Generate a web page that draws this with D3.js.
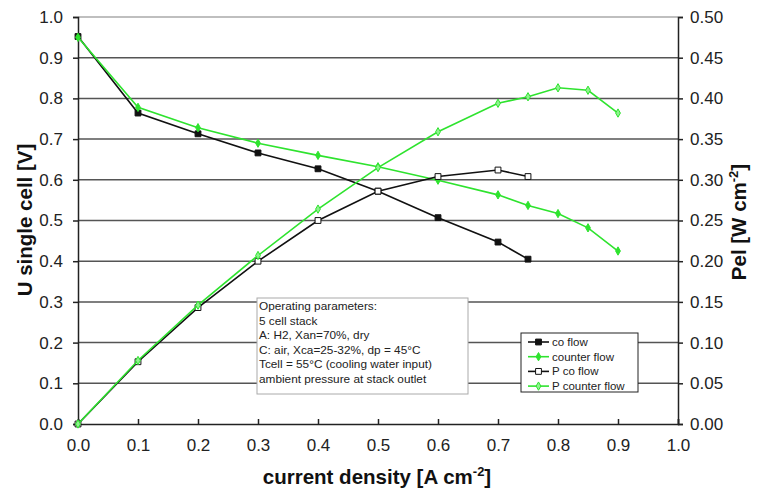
<!DOCTYPE html>
<html>
<head>
<meta charset="utf-8">
<script src="https://cdn.jsdelivr.net/npm/d3@7"></script>
<style>
  body { margin: 0; background: #fff; }
  text { font-family: "Liberation Sans", Arial, sans-serif; }
</style>
</head>
<body>
<div class="chart"></div>
<script>
// current density [A cm-2]
var xCo = [0, 0.1, 0.2, 0.3, 0.4, 0.5, 0.6, 0.7, 0.75];
var xCounter = [0, 0.1, 0.2, 0.3, 0.4, 0.5, 0.6, 0.7, 0.75, 0.8, 0.85, 0.9];

// U single cell [V]
var uCo = [0.952, 0.764, 0.713, 0.666, 0.627, 0.572, 0.507, 0.447, 0.405];
var uCounter = [0.95, 0.778, 0.728, 0.690, 0.660, 0.632, 0.599, 0.563, 0.537, 0.517, 0.482, 0.425];

// Pel [W cm-2]
var pCo = [0, 0.0765, 0.143, 0.200, 0.250, 0.286, 0.304, 0.312, 0.304];
var pCounter = [0, 0.078, 0.146, 0.207, 0.264, 0.315, 0.359, 0.394, 0.402, 0.413, 0.410, 0.382];

var xTicks = [0, 0.1, 0.2, 0.3, 0.4, 0.5, 0.6, 0.7, 0.8, 0.9, 1.0];
var yTicks = [0, 0.1, 0.2, 0.3, 0.4, 0.5, 0.6, 0.7, 0.8, 0.9, 1.0];
var y2Ticks = [0, 0.05, 0.1, 0.15, 0.2, 0.25, 0.3, 0.35, 0.4, 0.45, 0.5];

var series = ["co flow", "counter flow", "P co flow", "P counter flow"];
var notes = [
  "Operating parameters:",
  "5 cell stack",
  "A: H2, Xan=70%, dry",
  "C: air, Xca=25-32%, dp = 45°C",
  "Tcell = 55°C (cooling water input)",
  "ambient pressure at stack outlet"
];

var green = "#2ee32e";
var lightGreen = "#8ef28e";

var svg = d3.select(".chart").append("svg")
  .attr("width", 759)
  .attr("height", 490);

var x = d3.scaleLinear().domain([0, 1]).range([78, 678]);
var y = d3.scaleLinear().domain([0, 1]).range([424, 17]);
var y2 = d3.scaleLinear().domain([0, 0.5]).range([424, 17]);

// grid lines
svg.append("g").selectAll("line")
  .data(yTicks.slice(1))
  .join("line")
  .attr("x1", x(0)).attr("x2", x(1))
  .attr("y1", d => y(d)).attr("y2", d => y(d))
  .style("stroke", d => d === 1 ? "#aaa" : "#555")
  .style("stroke-width", 1.5);

// axes
var fmt1 = d3.format(".1f");
var fmt2 = d3.format(".2f");

var gx = svg.append("g")
  .attr("transform", "translate(0," + y(0) + ")")
  .call(d3.axisBottom(x).tickValues(xTicks).tickFormat(fmt1).tickSize(-5).tickPadding(15));

var gy = svg.append("g")
  .attr("transform", "translate(" + x(0) + ",0)")
  .call(d3.axisLeft(y).tickValues(yTicks).tickFormat(fmt1).tickSize(5).tickPadding(10));

var gy2 = svg.append("g")
  .attr("transform", "translate(" + x(1) + ",0)")
  .call(d3.axisRight(y2).tickValues(y2Ticks).tickFormat(fmt2).tickSize(5).tickPadding(7));

[gx, gy, gy2].forEach(function(g) {
  g.select(".domain").style("stroke", "#222").style("stroke-width", 1.5);
  g.selectAll(".tick line").style("stroke", "#222").style("stroke-width", 1.5);
  g.selectAll(".tick text")
    .style("font-size", "17px")
    .attr("fill", "#222")
    .attr("font-family", "Liberation Sans, Arial, sans-serif");
});

// axis titles
svg.append("text")
  .attr("transform", "translate(32,220) rotate(-90)")
  .attr("text-anchor", "middle")
  .style("font-size", "20.5px")
  .style("font-weight", "bold")
  .attr("fill", "#111")
  .text("U single cell [V]");

var t2 = svg.append("text")
  .attr("transform", "translate(746,222) rotate(-90)")
  .attr("text-anchor", "middle")
  .style("font-size", "20.5px")
  .style("font-weight", "bold")
  .attr("fill", "#111");
t2.append("tspan").text("Pel [W cm");
t2.append("tspan").attr("dy", -8).style("font-size", "13px").text("-2");
t2.append("tspan").attr("dy", 8).text("]");

var t3 = svg.append("text")
  .attr("x", 377).attr("y", 484)
  .attr("text-anchor", "middle")
  .style("font-size", "20.5px")
  .style("font-weight", "bold")
  .attr("fill", "#111");
t3.append("tspan").text("current density [A cm");
t3.append("tspan").attr("dy", -8).style("font-size", "13px").text("-2");
t3.append("tspan").attr("dy", 8).text("]");

// series
var lineU = d3.line().x(d => x(d[0])).y(d => y(d[1]));
var lineP = d3.line().x(d => x(d[0])).y(d => y2(d[1]));

var dCo = xCo.map((v, i) => [v, uCo[i]]);
var dCounter = xCounter.map((v, i) => [v, uCounter[i]]);
var dPCo = xCo.map((v, i) => [v, pCo[i]]);
var dPCounter = xCounter.map((v, i) => [v, pCounter[i]]);

var styles = [
  { data: dCo, line: lineU, stroke: "#111", marker: "square", fill: "#111" },
  { data: dCounter, line: lineU, stroke: green, marker: "diamond", fill: green },
  { data: dPCo, line: lineP, stroke: "#111", marker: "square", fill: "#fff" },
  { data: dPCounter, line: lineP, stroke: green, marker: "diamond", fill: lightGreen }
];

var sq = d3.symbol().type(d3.symbolSquare).size(34);
var dia = d3.symbol().type(d3.symbolDiamond).size(20);

styles.forEach(function(s, k) {
  var ys = k < 2 ? y : y2;
  svg.append("path")
    .datum(s.data)
    .attr("d", s.line)
    .attr("fill", "none")
    .style("stroke", s.stroke)
    .style("stroke-width", 1.6);
  svg.append("g").selectAll("path")
    .data(s.data)
    .join("path")
    .attr("transform", d => "translate(" + x(d[0]) + "," + ys(d[1]) + ")")
    .attr("d", s.marker === "square" ? sq : dia)
    .attr("fill", s.fill)
    .style("stroke", s.stroke)
    .style("stroke-width", 1);
});

// operating parameters box
svg.append("rect")
  .attr("x", 257).attr("y", 298)
  .attr("width", 211).attr("height", 96)
  .attr("fill", "#fff")
  .style("stroke", "#aaa")
  .style("stroke-width", 1);

svg.append("g").selectAll("text")
  .data(notes)
  .join("text")
  .attr("x", 259)
  .attr("y", (d, i) => 310 + i * 14.6)
  .style("font-size", "11.8px")
  .attr("fill", "#222")
  .text(d => d);

// legend
svg.append("rect")
  .attr("x", 521).attr("y", 333)
  .attr("width", 117).attr("height", 59)
  .attr("fill", "#fff")
  .style("stroke", "#222")
  .style("stroke-width", 1);

styles.forEach(function(s, i) {
  var ly = 342 + i * 14.7;
  svg.append("line")
    .attr("x1", 528).attr("x2", 549)
    .attr("y1", ly).attr("y2", ly)
    .style("stroke", s.stroke)
    .style("stroke-width", 1.6);
  svg.append("path")
    .attr("transform", "translate(538.5," + ly + ")")
    .attr("d", s.marker === "square" ? sq : dia)
    .attr("fill", s.fill)
    .style("stroke", s.stroke)
    .style("stroke-width", 1);
  svg.append("text")
    .attr("x", 552).attr("y", ly + 4)
    .style("font-size", "11.5px")
    .attr("fill", "#222")
    .text(series[i]);
});
</script>
</body>
</html>
